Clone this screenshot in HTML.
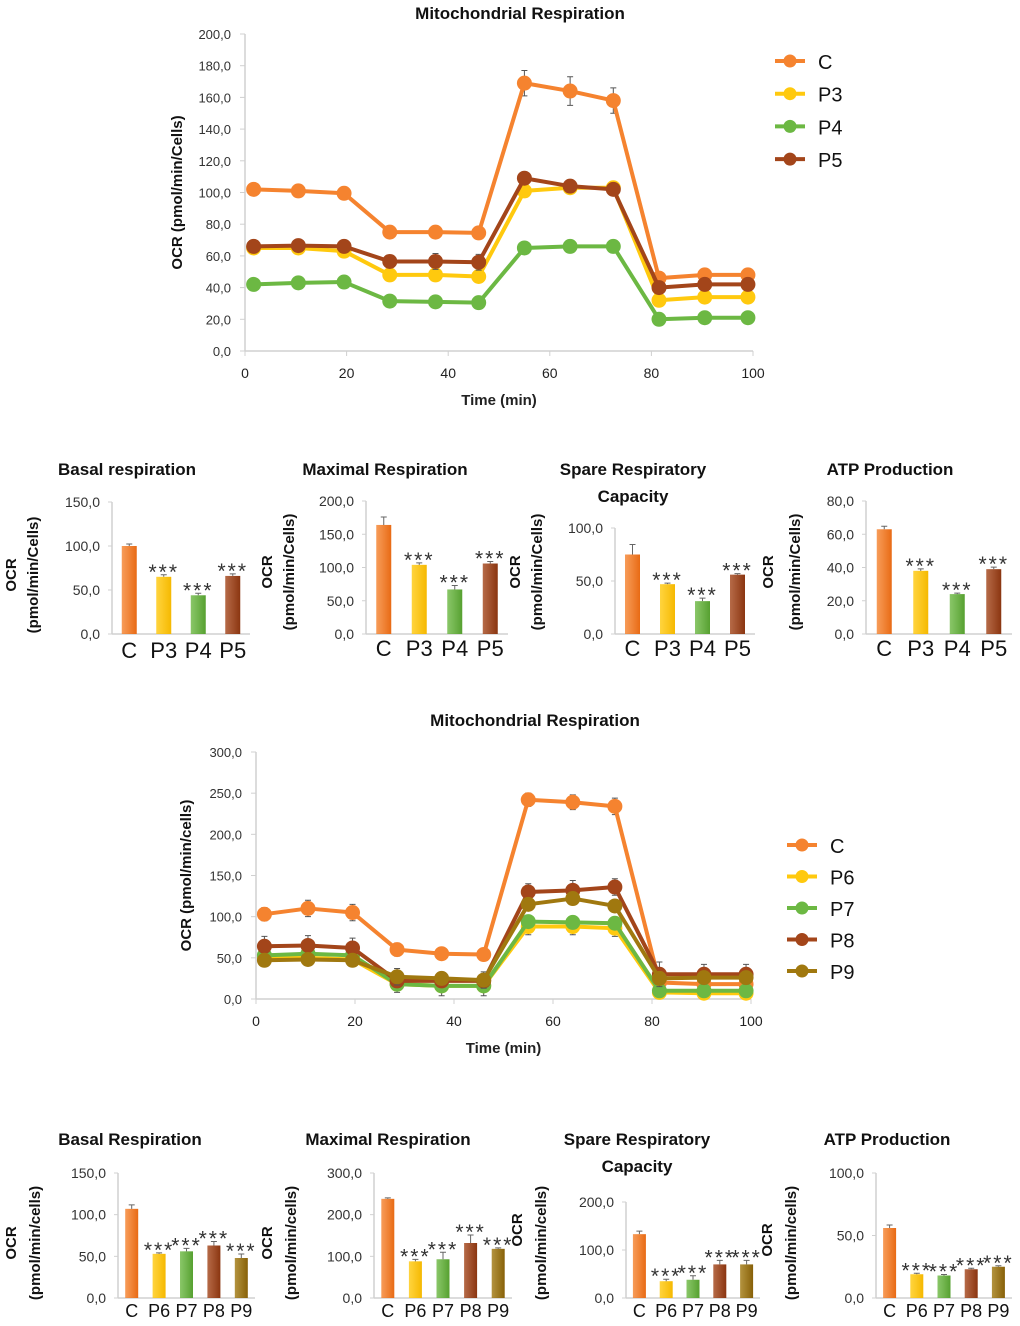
<!DOCTYPE html>
<html><head><meta charset="utf-8"><style>
html,body{margin:0;padding:0;background:#fff;}
svg{display:block;font-family:"Liberation Sans",sans-serif;}
</style></head><body>
<svg id="fig" width="1020" height="1326" viewBox="0 0 1020 1326" xmlns="http://www.w3.org/2000/svg">
<defs></defs>
</svg>
<script>
// ---- data: top line chart ----
const times = [1.7,10.5,19.5,28.5,37.5,46,55,64,72.5,81.5,90.5,99];
const top_names = ["C","P3","P4","P5"];
const top_C  = [102,101,99.5,75,75,74.5,169,164,158,46,48,48];
const top_P3 = [65,65,63,48,48,47,101,103,103,32,34,34];
const top_P4 = [42,43,43.5,31.5,31,30.5,65,66,66,20,21,21];
const top_P5 = [66,66.5,66,56.5,56.5,56,109,104,102,40,42,42];
const top_yticks = [0,20,40,60,80,100,120,140,160,180,200];
// ---- data: second line chart ----
const bot_names = ["C","P6","P7","P8","P9"];
const bot_C  = [103,110,105,60,55,54,242,239,234,20,18,18];
const bot_P6 = [50,50,48,18,16,16,88,88,86,8,7,7];
const bot_P7 = [53,55,53,18,16,16,94,93,92,10,10,10];
const bot_P8 = [64,65,62,22,22,22,130,132,136,30,30,30];
const bot_P9 = [47,48,47,27,25,23,115,122,113,25,26,26];
const bot_yticks = [0,50,100,150,200,250,300];
const xticks = [0,20,40,60,80,100];
// ---- data: bar panels ----
const cats1 = ["C","P3","P4","P5"];
const basal1 = [100,65,44,66];
const maximal1 = [164,104,67,106];
const spare1 = [75,47,31,56];
const atp1 = [63,38,24,39];
const cats2 = ["C","P6","P7","P8","P9"];
const basal2 = [107,53,56,63,48];
const maximal2 = [238,88,93,132,118];
const spare2 = [133,35,38,70,70];
const atp2 = [56,19,18,23,25];

const COL = {C:"#f5832f",P3:"#ffc90e",P4:"#6cb843",P5:"#a3451a",P6:"#ffc90e",P7:"#6cb843",P8:"#a3451a",P9:"#a0780f"};
const DARK = {C:"#e86a14",P3:"#f5b800",P4:"#56a030",P5:"#8a3510",P6:"#f5b800",P7:"#56a030",P8:"#8a3510",P9:"#876008"};
const NS="http://www.w3.org/2000/svg";
const svg=document.getElementById('fig');
function el(tag,attrs,parent,text){const e=document.createElementNS(NS,tag);for(const k in attrs)e.setAttribute(k,attrs[k]);if(text!==undefined)e.textContent=text;(parent||svg).appendChild(e);return e;}
function fmt(v){return v.toFixed(1).replace('.',',');}

const defs=svg.querySelector('defs');
for(const k in COL){const g=el('linearGradient',{id:'g'+k,x1:0,x2:1,y1:0,y2:0},defs);
el('stop',{offset:0,'stop-color':COL[k],'stop-opacity':0.8},g);el('stop',{offset:1,'stop-color':DARK[k]},g);}

function lineChart(o){
  const g=el('g',{});
  
  
  const xS=t=>o.x0+(o.x1-o.x0)*t/100, yS=v=>o.y0-(o.y0-o.y1)*v/o.ymax;
  const t=el('text',{x:o.tx,y:o.ty,'font-size':17,'font-weight':'bold','text-anchor':'middle',fill:'#111'},g,"Mitochondrial Respiration");
  
  el('line',{x1:o.x0,y1:o.y0,x2:o.x0,y2:o.y1,stroke:'#d0d0d0','stroke-width':1.5},g);
  el('line',{x1:o.x0,y1:o.y0,x2:o.x1,y2:o.y0,stroke:'#d0d0d0','stroke-width':1.5},g);
  o.yticks.forEach(v=>{el('line',{x1:o.x0-5,x2:o.x0,y1:yS(v),y2:yS(v),stroke:'#d0d0d0'},g);
    const l=el('text',{x:o.x0-14,y:yS(v)+5,'font-size':13,'text-anchor':'end',fill:'#333'},g,fmt(v));
    });
  xticks.forEach(v=>{el('line',{x1:xS(v),x2:xS(v),y1:o.y0,y2:o.y0+5,stroke:'#d0d0d0'},g);
    const l=el('text',{x:xS(v),y:o.y0+27,'font-size':14,'text-anchor':'middle',fill:'#222'},g,v);
    });
  const xt=el('text',{x:(o.x0+o.x1)/2,y:o.y0+54,'font-size':15,'font-weight':'bold','text-anchor':'middle',fill:'#222'},g,"Time (min)");
  
  const yc=(o.y0+o.y1)/2;
  const yt=el('text',{x:o.ylx,y:yc,'font-size':15,'font-weight':'bold','text-anchor':'middle',fill:'#111',transform:`rotate(-90 ${o.ylx} ${yc})`},g,o.ylabel);
  
  o.series.forEach((s,i)=>{
    const c=COL[o.names[i]], sg=el('g',{},g);
    
    if(o.errs&&o.errs[i]) s.forEach((v,j)=>{const e=o.errs[i][j];if(!e)return;const x=xS(times[j]);
      el('path',{d:`M${x} ${yS(v-e)}V${yS(v+e)}M${x-3} ${yS(v-e)}h6M${x-3} ${yS(v+e)}h6`,stroke:'#555','stroke-width':1,fill:'none'},sg);});
    el('polyline',{points:s.map((v,j)=>xS(times[j])+','+yS(v)).join(' '),fill:'none',stroke:c,'stroke-width':4,'stroke-linejoin':'round'},sg);
    s.forEach((v,j)=>{const p=el('circle',{cx:xS(times[j]),cy:yS(v),r:7.5,fill:c},sg);
      });
    const ly=o.ly+i*o.ld;
    const lg=el('g',{},g);
    
    el('line',{x1:o.lx,x2:o.lx+30,y1:ly,y2:ly,stroke:c,'stroke-width':4},lg);
    el('circle',{cx:o.lx+15,cy:ly,r:6.5,fill:c},lg);
    el('text',{x:o.lx+43,y:ly+8,'font-size':20,fill:'#111'},lg,o.names[i]);
  });
}

lineChart({name:'line-chart-p3-p5',x0:245,x1:753,y0:351,y1:34,ymax:200,tx:520,ty:19,yticks:top_yticks,ylx:182,ylabel:"OCR (pmol/min/Cells)",
  names:top_names,series:[top_C,top_P3,top_P4,top_P5],errs:[[2,2,2,2,2,2,8,9,8,2,2,2],[0,0,0,0,0,0,4,0,0,0,0,0],[0,0,0,0,0,0,0,0,4,0,0,0],[0,0,0,4,5,5,0,0,0,0,0,0]],
  lx:775,ly:61,ld:32.7});
lineChart({name:'line-chart-p6-p9',x0:256,x1:751,y0:999,y1:752,ymax:300,tx:535,ty:726,yticks:bot_yticks,ylx:191,ylabel:"OCR (pmol/min/cells)",
  names:bot_names,series:[bot_C,bot_P6,bot_P7,bot_P8,bot_P9],errs:[[8,10,10,8,5,5,8,9,10,3,3,3],[0,0,0,0,0,0,10,10,10,0,0,0],[0,0,0,10,12,12,0,0,0,0,0,0],[12,12,12,0,0,0,10,12,10,15,12,12],[0,0,0,10,0,10,0,0,0,0,0,0]],
  lx:787,ly:845,ld:31.5});

function barChart(o){
  const g=el('g',{});
  
  const yS=v=>o.y0-(o.y0-o.y1)*v/o.ymax;
  o.title.forEach((t,i)=>{const e=el('text',{x:o.tx,y:o.ty+i*27,'font-size':17,'font-weight':'bold','text-anchor':'middle',fill:'#111'},g,t);
    });
  el('line',{x1:o.ax,x2:o.ax,y1:o.y0,y2:o.y1,stroke:'#d0d0d0','stroke-width':1.5},g);
  el('line',{x1:o.ax,x2:o.xe,y1:o.y0,y2:o.y0,stroke:'#d0d0d0','stroke-width':1.5},g);
  o.ticks.forEach(v=>{el('line',{x1:o.ax-4,x2:o.ax,y1:yS(v),y2:yS(v),stroke:'#d0d0d0'},g);
    const l=el('text',{x:o.ax-12,y:yS(v)+5,'font-size':14,'text-anchor':'end',fill:'#333'},g,fmt(v));
    });
  const step=(o.xe-o.ax)/o.cats.length;
  o.vals.forEach((v,i)=>{const cx=o.ax+step*(i+0.5), k=o.cats[i], w=o.bw;
    const b=el('rect',{x:cx-w/2,y:yS(v),width:w,height:o.y0-yS(v),fill:`url(#g${k})`},g);
    
    const e=o.errs?o.errs[i]:2;
    el('path',{d:`M${cx} ${yS(v)}V${yS(v)-e}M${cx-3} ${yS(v)-e}h6`,stroke:'#666',fill:'none'},g);
    if(i>0){const s=el('text',{x:cx,y:yS(v)-e+4,'font-size':21,'text-anchor':'middle',fill:'#333','letter-spacing':2},g,"***");
      }
    const l=el('text',{x:cx,y:o.y0+o.cly,'font-size':o.cfs,'text-anchor':'middle',fill:'#111'},g,k);
    
  });
  const yc=o.yc;
  const a=el('text',{x:o.yl1,y:o.yc1||yc,'font-size':15,'font-weight':'bold','text-anchor':'middle',fill:'#111',transform:`rotate(-90 ${o.yl1} ${o.yc1||yc})`},g,"OCR");
  
  const b=el('text',{x:o.yl2,y:yc,'font-size':15,'font-weight':'bold','text-anchor':'middle',fill:'#111',transform:`rotate(-90 ${o.yl2} ${yc})`},g,o.unit);
  
}
const U1="(pmol/min/Cells)", U2="(pmol/min/cells)";
barChart({name:'basal-respiration-1',cats:cats1,vals:basal1,ax:112,xe:250,y0:634,y1:502,ymax:150,ticks:[0,50,100,150],bw:15,tx:127,ty:475,title:["Basal respiration"],yl1:16,yl2:38,yc:575,unit:U1,cly:24,cfs:22});
barChart({name:'maximal-respiration-1',cats:cats1,vals:maximal1,ax:366,xe:508,y0:634,y1:501,ymax:200,ticks:[0,50,100,150,200],bw:15,tx:385,ty:475,title:["Maximal Respiration"],yl1:272,yl2:294,yc:572,unit:U1,cly:22,cfs:22,errs:[8,2,4,2]});
barChart({name:'spare-capacity-1',cats:cats1,vals:spare1,ax:615,xe:755,y0:634,y1:528,ymax:100,ticks:[0,50,100],bw:15,tx:633,ty:475,title:["Spare Respiratory","Capacity"],yl1:520,yl2:542,yc:572,unit:U1,cly:22,cfs:22,errs:[10,1,3,1]});
barChart({name:'atp-production-1',cats:cats1,vals:atp1,ax:866,xe:1012,y0:634,y1:501,ymax:80,ticks:[0,20,40,60,80],bw:15,tx:890,ty:475,title:["ATP Production"],yl1:773,yl2:800,yc:572,unit:U1,cly:22,cfs:22,errs:[3,2,1,2]});
barChart({name:'basal-respiration-2',cats:cats2,vals:basal2,ax:118,xe:255,y0:1298,y1:1173,ymax:150,ticks:[0,50,100,150],bw:13,tx:130,ty:1145,title:["Basal Respiration"],yl1:16,yl2:40,yc:1243,unit:U2,cly:19,cfs:18,errs:[4,1,3,4,4]});
barChart({name:'maximal-respiration-2',cats:cats2,vals:maximal2,ax:374,xe:512,y0:1298,y1:1173,ymax:300,ticks:[0,100,200,300],bw:13,tx:388,ty:1145,title:["Maximal Respiration"],yl1:272,yl2:296,yc:1243,unit:U2,cly:19,cfs:18,errs:[1,2,7,8,1]});
barChart({name:'spare-capacity-2',cats:cats2,vals:spare2,ax:626,xe:760,y0:1298,y1:1202,ymax:200,ticks:[0,100,200],bw:13,tx:637,ty:1145,title:["Spare Respiratory","Capacity"],yl1:522,yc1:1230,yl2:546,yc:1243,unit:U2,cly:19,cfs:18,errs:[3,2,4,4,4]});
barChart({name:'atp-production-2',cats:cats2,vals:atp2,ax:876,xe:1012,y0:1298,y1:1173,ymax:100,ticks:[0,50,100],bw:13,tx:887,ty:1145,title:["ATP Production"],yl1:772,yc1:1240,yl2:796,yc:1243,unit:U2,cly:19,cfs:18,errs:[3,1,1,1,1]});
</script>
</body></html>
